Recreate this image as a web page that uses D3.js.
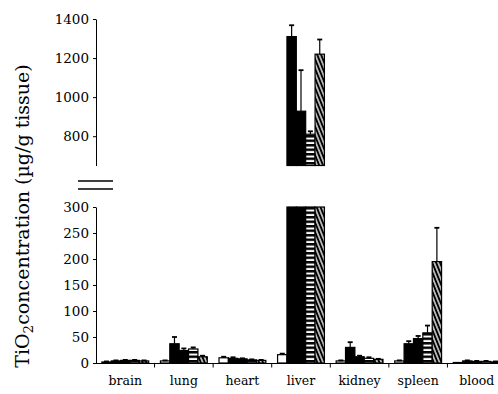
<!DOCTYPE html>
<html>
<head>
<meta charset="utf-8">
<script src="https://cdn.jsdelivr.net/npm/d3@7"></script>
<style>
  html, body { margin: 0; padding: 0; background: #fff; }
  svg { display: block; }
  text { font-family: "DejaVu Serif", "Liberation Serif", serif; fill: #000; }
</style>
</head>
<body>
<svg id="chart" width="498" height="394"></svg>
<script>
// Tissue distribution of TiO2 (µg/g tissue), five treatment groups per organ
const categories = ["brain", "lung", "heart", "liver", "kidney", "spleen", "blood"];
const seriesKeys = ["control", "group1", "group2", "group3", "group4"];

const controlValues = [2, 4, 10, 16, 4, 4, 1];
const group1Values  = [4, 37, 9, 1310, 30, 37, 4];
const group2Values  = [5, 24, 8, 928, 12, 47, 3];
const group3Values  = [5, 27, 6, 810, 9, 58, 3];
const group4Values  = [4, 12, 5, 1220, 7, 195, 2];

const controlErr = [1, 1, 2, 2, 1, 1, 0];
const group1Err  = [1, 13, 2, 58, 10, 5, 1];
const group2Err  = [1, 4, 1, 210, 2, 5, 1];
const group3Err  = [1, 3, 1, 15, 2, 14, 1];
const group4Err  = [1, 2, 1, 75, 1, 65, 1];

const upperTicks = [800, 1000, 1200, 1400];
const lowerTicks = [0, 50, 100, 150, 200, 250, 300];

const yTitle = "concentration (\u00b5g/g tissue)";

const seriesValues = [controlValues, group1Values, group2Values, group3Values, group4Values];
const seriesErrors = [controlErr, group1Err, group2Err, group3Err, group4Err];

const rows = [];
seriesKeys.forEach((k, si) => {
  categories.forEach((c, ci) => {
    rows.push({ key: k, si, cat: c, value: seriesValues[si][ci], err: seriesErrors[si][ci] });
  });
});

const svg = d3.select("#chart");

// patterns for the filled groups
const defs = svg.append("defs");
const hp = defs.append("pattern").attr("id", "hstripe")
  .attr("patternUnits", "userSpaceOnUse").attr("width", 6).attr("height", 4.5);
hp.append("rect").attr("width", 6).attr("height", 4.5).attr("fill", "#fff");
hp.append("rect").attr("width", 6).attr("height", 2.5).attr("fill", "#000");

const dp = defs.append("pattern").attr("id", "diag")
  .attr("patternUnits", "userSpaceOnUse").attr("width", 3.6).attr("height", 10)
  .attr("patternTransform", "rotate(-22)");
dp.append("rect").attr("width", 3.6).attr("height", 10).attr("fill", "#000");
dp.append("line").attr("x1", 1.8).attr("x2", 1.8).attr("y1", 0).attr("y2", 10)
  .attr("stroke", "#fff").attr("stroke-width", 1.3);

const fills = { control: "#fff", group1: "#000", group2: "#000", group3: "url(#hstripe)", group4: "url(#diag)" };

// scales
const x0 = d3.scaleBand().domain(categories).range([96, 506]).paddingInner(0.2).paddingOuter(0.1);
const x1 = d3.scaleBand().domain(seriesKeys).range([0, x0.bandwidth()]).padding(0);
const yLow = d3.scaleLinear().domain([0, 300]).range([363, 207]);
const yUp = d3.scaleLinear().domain([650, 1400]).range([165.5, 19]);

// bars, lower panel (clipped at 300)
const g = svg.append("g");
g.selectAll("rect.low").data(rows).join("rect")
  .attr("class", "low")
  .attr("x", d => x0(d.cat) + x1(d.key))
  .attr("width", x1.bandwidth())
  .attr("y", d => yLow(Math.min(d.value, 300)))
  .attr("height", d => yLow(0) - yLow(Math.min(d.value, 300)))
  .attr("fill", d => fills[d.key])
  .attr("stroke", "#000").attr("stroke-width", 1.2);

// bars, upper panel
const upRows = rows.filter(d => d.value > 650);
g.selectAll("rect.up").data(upRows).join("rect")
  .attr("class", "up")
  .attr("x", d => x0(d.cat) + x1(d.key))
  .attr("width", x1.bandwidth())
  .attr("y", d => yUp(d.value))
  .attr("height", d => yUp(650) - yUp(d.value))
  .attr("fill", d => fills[d.key])
  .attr("stroke", "#000").attr("stroke-width", 1.2);

// error bars (upper half only)
const errRows = rows.filter(d => d.err > 0 && (d.value <= 300 || d.value > 650));
const ys = d => (d.value > 650 ? yUp : yLow);
const eg = g.selectAll("g.err").data(errRows).join("g").attr("class", "err")
  .attr("transform", d => `translate(${x0(d.cat) + x1(d.key) + x1.bandwidth() / 2},0)`);
eg.append("line")
  .attr("y1", d => ys(d)(d.value)).attr("y2", d => ys(d)(d.value + d.err))
  .attr("stroke", "#000").attr("stroke-width", 1.2);
eg.append("line")
  .attr("x1", -2.5).attr("x2", 2.5)
  .attr("y1", d => ys(d)(d.value + d.err)).attr("y2", d => ys(d)(d.value + d.err))
  .attr("stroke", "#000").attr("stroke-width", 1.8);

// axes
const fmt = d3.format("d");
const upAxis = svg.append("g").attr("transform", "translate(96,0)")
  .call(d3.axisLeft(yUp).tickValues(upperTicks).tickFormat(fmt).tickSize(3).tickSizeOuter(0).tickPadding(4));
const lowAxis = svg.append("g").attr("transform", "translate(96,0)")
  .call(d3.axisLeft(yLow).tickValues(lowerTicks).tickFormat(fmt).tickSize(3).tickSizeOuter(0).tickPadding(4));
[upAxis, lowAxis].forEach(a => {
  a.selectAll("text").style("font-size", "13.5px").style("font-family", "DejaVu Serif");
  a.select(".domain").attr("stroke-width", 1);
});

// category axis with ticks between groups
const bounds = categories.slice(1).map(c => x0(c) - x0.step() * x0.paddingInner() / 2);
const xg = svg.append("g");
xg.append("line").attr("x1", 96).attr("x2", 498).attr("y1", 363.5).attr("y2", 363.5)
  .attr("stroke", "#000").attr("stroke-width", 1);
xg.selectAll("line.tk").data(bounds).join("line").attr("class", "tk")
  .attr("x1", d => d).attr("x2", d => d).attr("y1", 363.5).attr("y2", 367.5)
  .attr("stroke", "#000");
xg.selectAll("text").data(categories).join("text")
  .attr("x", d => x0(d) + x0.bandwidth() / 2).attr("y", 385)
  .attr("text-anchor", "middle").style("font-size", "12.5px")
  .text(d => d);

// axis break marks
svg.append("g").selectAll("line").data([181, 189]).join("line")
  .attr("x1", 78).attr("x2", 113).attr("y1", d => d).attr("y2", d => d)
  .attr("stroke", "#000").attr("stroke-width", 1.6);

// y title
const t = svg.append("text")
  .attr("transform", "translate(29,216) rotate(-90)")
  .attr("text-anchor", "middle").style("font-size", "19px");
t.append("tspan").text("TiO");
t.append("tspan").attr("dy", 4).style("font-size", "13.5px").text("2");
t.append("tspan").attr("dy", -4).text(yTitle);
</script>
</body>
</html>
